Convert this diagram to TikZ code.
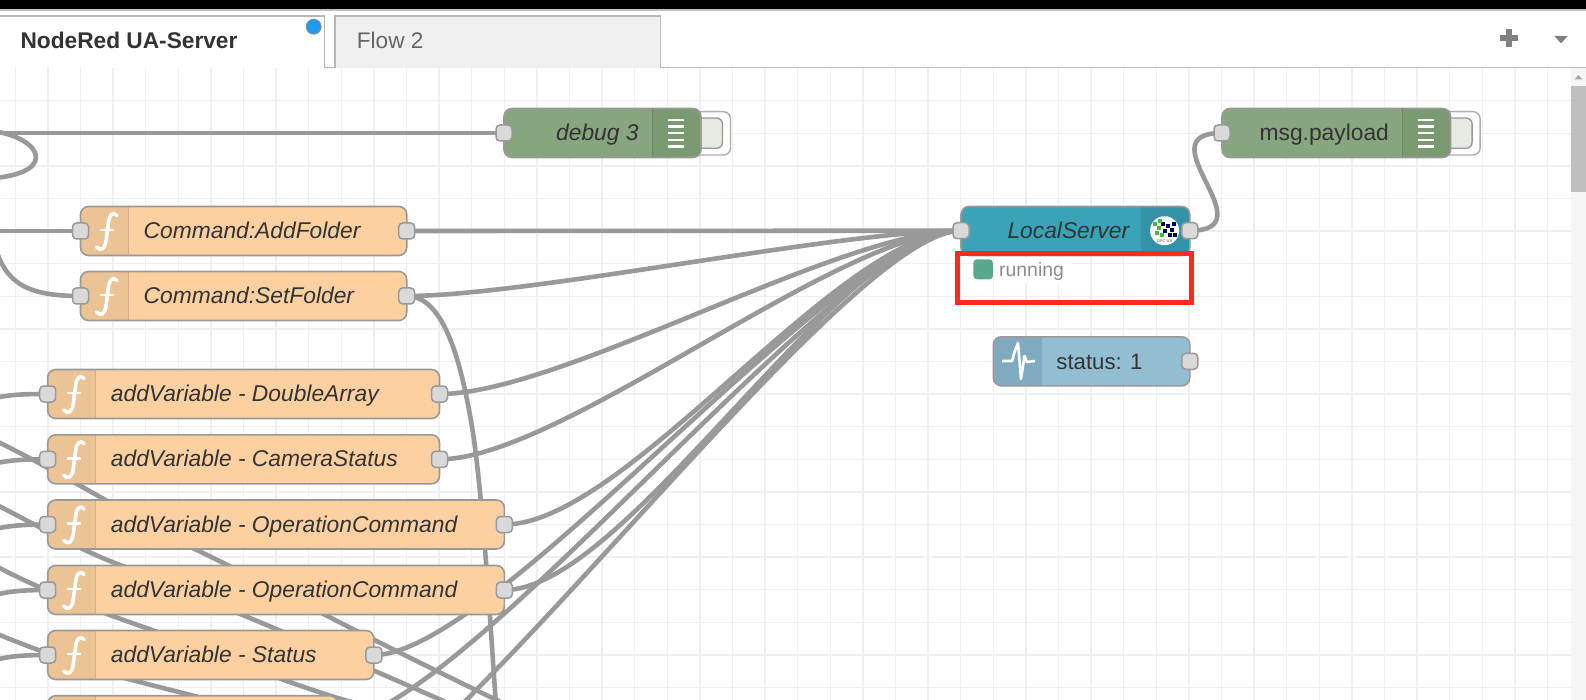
\documentclass[tikz,border=0pt]{standalone}
\usepackage{fontspec}
\setmainfont{Liberation Sans}
\usetikzlibrary{calc}
\pgfdeclarelayer{gridlayer}
\pgfdeclarelayer{wirelayer}
\pgfdeclarelayer{toplayer}
\pgfsetlayers{gridlayer,wirelayer,main,toplayer}
\definecolor{gridc}{HTML}{EFEFEF}
\definecolor{wirec}{HTML}{999999}
\definecolor{fnfill}{HTML}{FDD0A2}
\definecolor{fnicon}{HTML}{EBC394}
\definecolor{dbgfill}{HTML}{87A67F}
\definecolor{dbgicon}{HTML}{7A9A72}
\definecolor{srvfill}{HTML}{3AA3B7}
\definecolor{srvicon}{HTML}{3392A6}
\definecolor{stfill}{HTML}{93BED2}
\definecolor{sticon}{HTML}{80AAC0}
\definecolor{txt}{HTML}{333333}
\definecolor{dotc}{HTML}{1E9BF5}
\definecolor{okc}{HTML}{5AA88C}
\definecolor{redc}{HTML}{FF2A1F}
\tikzset{
  wire/.style={draw=wirec,line width=4.6pt},
  flowbox/.style={rectangle,rounded corners=8pt,draw=wirec,line width=1.6pt,inner sep=0pt,outer sep=0pt,minimum height=49pt,anchor=west},
  portbox/.style={rectangle,rounded corners=4pt,draw=wirec,line width=1.5pt,fill=black!15,inner sep=0pt,outer sep=0pt,minimum width=16pt,minimum height=16pt},
  nodetext/.style={anchor=base west,inner sep=0pt,text=txt,font=\fontsize{22.8}{26}\selectfont},
  tabtext/.style={anchor=base west,inner sep=0pt,font=\fontsize{22.6}{26}\selectfont},
  bar/.style={draw=white,line width=2.4pt}
}
\newcommand{\fnnode}[5]{%
  \node[flowbox,fill=fnfill,minimum width={(#3-#2)*1pt},
    path picture={\fill[fnicon,sharp corners] (path picture bounding box.north west) rectangle ++(48,49);
      \draw[fnicon!90!black,line width=1pt] ($(path picture bounding box.north west)+(48,0)$) -- ++(0,49);}] (#1) at (#2,#4) {};
  \begin{scope}[shift={(#2,#4)}]
    \draw[white,line width=3.6pt,line cap=round] (36.5,-15.5) .. controls (32,-20) and (29,-16) .. (28,-9) -- (25.5,10) .. controls (24,19) and (20,20) .. (16,16);
    \draw[white,line width=2.4pt] (19,-1) -- (33.5,-1);
  \end{scope}
  \node[nodetext] (#1-t) at (#2+63,#4+7.6) {\itshape #5};
  \begin{pgfonlayer}{toplayer}
    \node[portbox] (#1-in) at (#2,#4) {};
    \node[portbox] (#1-out) at (#3,#4) {};
  \end{pgfonlayer}
}
\newcommand{\dbgnode}[4]{%
  \draw[wirec!80,line width=1.4pt,fill=white,rounded corners=7pt] (#3-20,111.7) rectangle (#3+29.5,155);
  \draw[wirec,line width=1.4pt,fill=dbgfill!22!white,rounded corners=6pt] (#3-20,118) rectangle (#3+21.5,148.3);
  \node[flowbox,fill=dbgfill,minimum width={(#3-#2)*1pt},
    path picture={\fill[dbgicon,sharp corners] (path picture bounding box.north east) rectangle ++(-48,49);}] (#1) at (#2,#4) {};
  \foreach \yy in {120,126.7,133.3,140,146.7} {\draw[bar] (#3-32.6,\yy) -- (#3-16.6,\yy);}
  \begin{pgfonlayer}{toplayer}
    \node[portbox] (#1-in) at (#2,#4) {};
  \end{pgfonlayer}
}
\begin{document}
\begin{tikzpicture}[x=1pt,y=-1pt]
\useasboundingbox (0,0) rectangle (1586,700);
% grid on the page
\begin{pgfonlayer}{gridlayer}
  \fill[white] (0,0) rectangle (1586,700);
  \foreach \k in {0,...,47} {\draw[gridc,line width=1.4pt] ({15.2+32.6*\k},68) -- ({15.2+32.6*\k},700);}
  \foreach \k in {0,...,18} {\draw[gridc,line width=1.4pt] (0,{100.7+32.6*\k}) -- (1571,{100.7+32.6*\k});}
  \fill[white] (996,258) rectangle (1071,283);
\end{pgfonlayer}
\fill[black] (0,0) rectangle (1586,9);
\fill[black!25] (0,9) rectangle (1586,11);
% tab bar
\draw[black!28,line width=1.6pt] (324.5,67.6) -- (1586,67.6);
\draw[black!28,line width=1.6pt,fill=white] (-3,67.6) -- (-3,16) -- (324.5,16) -- (324.5,67.6);
\draw[black!28,line width=1.4pt,fill=black!6] (335,67.6) -- (335,16) -- (660.5,16) -- (660.5,67.6);
\node[tabtext,text=txt,font=\fontsize{22.7}{26}\selectfont\bfseries] (tab1) at (20.3,49) {NodeRed UA-Server};
\node[tabtext,text=black!60] (tab2) at (356.7,49) {Flow 2};
\node[circle,fill=dotc,draw=black!45,line width=.8pt,minimum size=15pt,inner sep=0pt] (dot) at (313.7,26.7) {};
\fill[black!50] (1506.3,29.5) rectangle (1512.3,47.5);
\fill[black!50] (1500.3,35.5) rectangle (1518.3,41.5);
\fill[black!50] (1554.3,36) -- (1567.7,36) -- (1561,43.3) -- cycle;
% scrollbar
\fill[black!4] (1571,68.5) rectangle (1586,700);
\fill[black!25] (1571,86) rectangle (1586,192);
\fill[black!35] (1574.5,79.5) -- (1582.5,79.5) -- (1578.5,75) -- cycle;
% nodes
\dbgnode{debugA}{504}{701}{133}
\node[nodetext] (debugAlab) at (556,141) {\itshape debug 3};
\dbgnode{payload}{1222}{1450.6}{133}
\node[nodetext] (payloadlab) at (1259.4,141) {msg.payload};
\draw[dbgicon!90!black,line width=1pt] (652.9,108.5) -- (652.9,157.5);
\draw[dbgicon!90!black,line width=1pt] (1402.5,108.5) -- (1402.5,157.5);
\fnnode{addf}{80.5}{406.7}{231}{Command:AddFolder}
\fnnode{setf}{80.5}{406.7}{296}{Command:SetFolder}
\fnnode{dbl}{47.7}{439.5}{394}{addVariable - DoubleArray}
\fnnode{cam}{47.7}{439.5}{459.3}{addVariable - CameraStatus}
\fnnode{opa}{47.7}{504.4}{524.5}{addVariable - OperationCommand}
\fnnode{opb}{47.7}{504.4}{590}{addVariable - OperationCommand}
\fnnode{stat}{47.7}{373.9}{655}{addVariable - Status}
\fnnode{nxt}{47.7}{338}{720.2}{}
% LocalServer
\node[flowbox,fill=srvfill,minimum width=228.8pt,
  path picture={\fill[srvicon,sharp corners] (path picture bounding box.north east) rectangle ++(-49,49);}] (srv) at (961,231) {};
\node[nodetext] (srvlab) at (1007.3,238.6) {\itshape LocalServer};
\node[circle,fill=white,minimum size=29pt,inner sep=0pt] (opc) at (1164.6,230.7) {};
\foreach \px/\py/\pc in {1155/224/green!45!gray,1159/228/green!45!gray,1163/224/blue!40!black,1168/226/blue!40!black,1172/230/blue!40!black,1165/231/blue!40!black,1170/235/blue!40!black,1157/233/green!45!gray,1162/235/green!45!gray,1174/224/blue!40!black,1160/221/green!45!gray,1175/235/blue!40!black}
  {\fill[\pc] (\px-1.8,\py-1.8) rectangle (\px+1.8,\py+1.8);}
\node[inner sep=0pt,text=black!70,font=\fontsize{4}{4}\selectfont] (opclab) at (1164.6,241) {OPC UA};
% status node
\node[flowbox,fill=stfill,minimum width=196.5pt,
  path picture={\fill[sticon,sharp corners] (path picture bounding box.north west) rectangle ++(49,49);}] (inj) at (993.3,361.3) {};
\draw[white,line width=2.6pt,line join=round] (1002,361) -- (1012,361) -- (1014.5,352) -- (1018,343) -- (1021,379) -- (1024.5,356) -- (1027,362) -- (1035,361);
\node[nodetext,font=\fontsize{22.2}{26}\selectfont] (injlab) at (1056.2,369) {status: 1};
\begin{pgfonlayer}{toplayer}
  \node[portbox] (srv-in) at (961,230.7) {};
  \node[portbox] (srv-out) at (1189.8,230.7) {};
  \node[portbox] (inj-out) at (1189.8,361.3) {};
  \draw[redc,line width=4.6pt] (957.5,253.3) rectangle (1191.5,302.7);
\end{pgfonlayer}
\node[rectangle,rounded corners=3.5pt,fill=okc,minimum width=19.5pt,minimum height=20pt,inner sep=0pt] (stsq) at (983.2,269.3) {};
\node[anchor=base west,inner sep=0pt,text=black!45,font=\fontsize{19.4}{22}\selectfont] (stlab) at (999,276.7) {running};
% free ends
\coordinate (fa) at (-5,133);
\coordinate (fb) at (-5,245);
\coordinate (fc) at (-5,231);
\coordinate (fd) at (-5,398);
\coordinate (fe) at (-5,463.5);
\coordinate (ff) at (-5,529);
\coordinate (fg) at (-5,595);
\coordinate (fh) at (-5,660);
\coordinate (w2) at (300,820);
\coordinate (setend) at (496,705);
\coordinate (la) at (-5,440.5);
\coordinate (lae) at (505,704);
\coordinate (lb) at (-5,504);
\coordinate (lbe) at (450,704);
\coordinate (lc) at (-5,565.5);
\coordinate (lce) at (355,703);
\coordinate (ld) at (-5,633);
\coordinate (lde) at (220,703);
\begin{pgfonlayer}{wirelayer}
\begin{scope}
  \clip (0,68.5) rectangle (1571,700);
  \draw[wire] (fa) -- (debugA-in.center);
  \draw[wire] (-5,131.5) .. controls (15,134) and (36,145) .. (36,157) .. controls (36,170) and (15,176) .. (-5,178);
  \draw[wire] (fc) -- (addf-in.center);
  \draw[wire] (fb) .. controls (5,285) and (30,296) .. (setf-in.center);
  \draw[wire] (fd) .. controls (10,394.5) and (25,394) .. (dbl-in.center);
  \draw[wire] (fe) .. controls (10,460) and (25,459.3) .. (cam-in.center);
  \draw[wire] (ff) .. controls (10,525.5) and (25,524.5) .. (opa-in.center);
  \draw[wire] (fg) .. controls (10,591) and (25,590) .. (opb-in.center);
  \draw[wire] (fh) .. controls (10,656) and (25,655) .. (stat-in.center);
  % crossing wires behind the nodes
  \draw[wire] (la) .. controls (60,472) and (120,510) .. (192.7,548) .. controls (270,585) and (350,630) .. (lae);
  \draw[wire] (lb) .. controls (40,527) and (80,550) .. (120,565) .. controls (220,605) and (340,655) .. (lbe);
  \draw[wire] (lc) .. controls (40,590) and (100,612) .. (152,630) .. controls (220,655) and (290,685) .. (lce);
  \draw[wire] (ld) .. controls (40,652) and (100,672) .. (132,680) .. controls (170,690) and (200,697) .. (lde);
  % to LocalServer
  \draw[wire] (addf-out.center) -- (srv-in.center);
  \draw[wire] (setf-out.center) .. controls +(122,0) and +(-122,0) .. (srv-in.center);
  \draw[wire] (dbl-out.center) .. controls +(122,0) and +(-122,0) .. (srv-in.center);
  \draw[wire] (cam-out.center) .. controls +(122,0) and +(-122,0) .. (srv-in.center);
  \draw[wire] (opa-out.center) .. controls +(122,0) and +(-122,0) .. (srv-in.center);
  \draw[wire] (opb-out.center) .. controls +(122,0) and +(-122,0) .. (srv-in.center);
  \draw[wire] (stat-out.center) .. controls +(122,0) and +(-122,0) .. (srv-in.center);
  \draw[wire] (nxt-out.center) .. controls +(122,0) and +(-122,0) .. (srv-in.center);
  \draw[wire] (w2) .. controls +(122,0) and +(-122,0) .. (srv-in.center);
  % SetFolder downwards
  \draw[wire] (setf-out.center) .. controls (445,296) and (462,365) .. (473,433) .. controls (483,500) and (490,620) .. (setend);
  % output
  \draw[wire] (srv-out.center) .. controls +(80,0) and +(-80,0) .. (payload-in.center);
\end{scope}
\end{pgfonlayer}
\end{tikzpicture}
\end{document}
